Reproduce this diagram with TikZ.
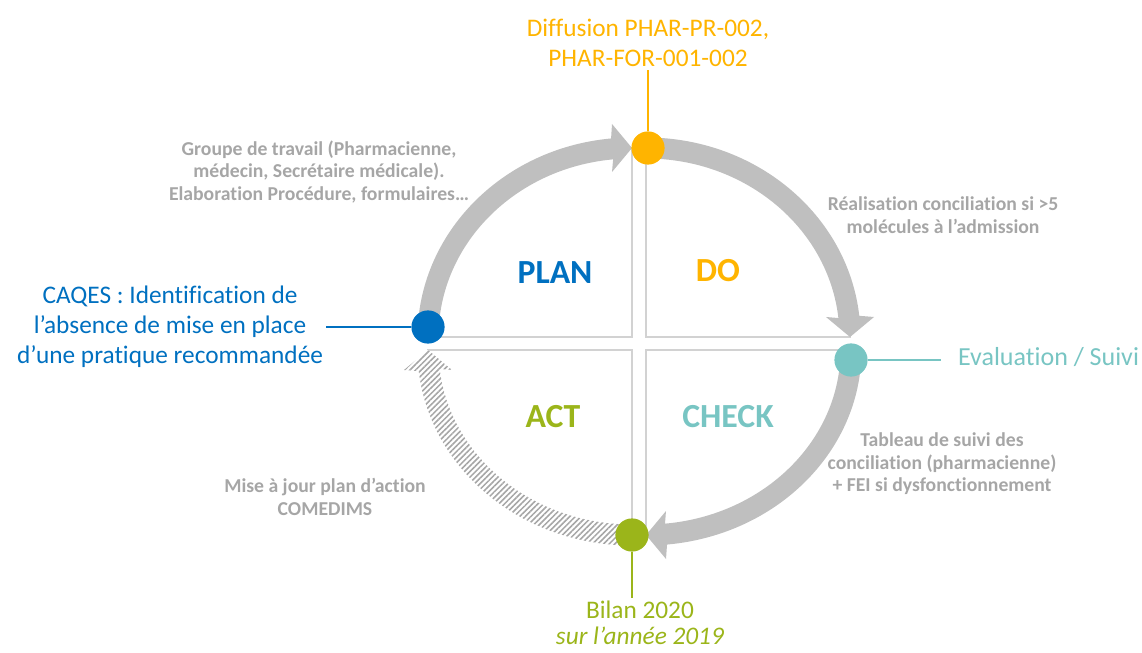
\documentclass[tikz,border=0pt]{standalone}
\usepackage{fontspec}
\setmainfont{Carlito}[Ligatures=NoCommon]
\usetikzlibrary{positioning,patterns.meta}

\definecolor{planblue}{RGB}{0,112,192}
\definecolor{doyellow}{RGB}{255,180,0}
\definecolor{checkteal}{RGB}{120,197,195}
\definecolor{actgreen}{RGB}{155,181,26}
\definecolor{arrowgray}{RGB}{191,191,191}
\definecolor{notegray}{RGB}{166,166,166}
\definecolor{quadgray}{RGB}{210,210,210}

\begin{document}
\begin{tikzpicture}[
x=0.025cm,
y=0.025cm,
quadrant/.style={draw=quadgray, line width=1.1pt},
band/.style={fill=arrowgray},
hatchband/.style={
    preaction={fill=white},
    pattern={Lines[angle=45,distance=2.8pt,line width=1.1pt]},
    pattern color=notegray
},
dot/.style={circle, minimum size=0.83cm, inner sep=0pt},
connector/.style={line width=1.5pt},
title/.style={font=\fontsize{24}{28}\selectfont\bfseries},
note/.style={
    text=notegray,
    align=center,
    inner sep=2pt,
    font=\fontsize{14}{16}\selectfont\bfseries
},
tag/.style={
    align=center,
    inner sep=2pt,
    font=\fontsize{18}{21.5}\selectfont
}
]

\useasboundingbox (0,0) rectangle (1142,652);

\draw[quadrant] (632,315) -- ++(-204,0) arc[start angle=180,end angle=90,x radius=204,y radius=189] -- cycle;
\draw[quadrant] (646,315) -- ++(0,189) arc[start angle=90,end angle=0,x radius=204,y radius=189] -- cycle;
\draw[quadrant] (646,302) -- ++(205,0) arc[start angle=0,end angle=-90,x radius=205,y radius=185] -- cycle;
\draw[quadrant] (632,302) -- ++(0,-185) arc[start angle=270,end angle=180,x radius=204,y radius=185] -- cycle;

\begin{scope}[shift={(632,315)}]
\fill[band] (180:214.5 and 199.5) arc[start angle=180,end angle=95.6,x radius=214.5,y radius=199.5]
    -- (-20,213) -- (0,189) -- (-20,165)
    -- (95.6:193.5 and 178.5) arc[start angle=95.6,end angle=180,x radius=193.5,y radius=178.5] -- cycle;
\end{scope}

\begin{scope}[shift={(646,315)}]
\fill[band] (90:214.5 and 199.5) arc[start angle=90,end angle=6.1,x radius=214.5,y radius=199.5]
    -- (228,20) -- (204,0) -- (180,20)
    -- (6.1:193.5 and 178.5) arc[start angle=6.1,end angle=90,x radius=193.5,y radius=178.5] -- cycle;
\end{scope}

\begin{scope}[shift={(646,302)}]
\fill[band] (0:215.5 and 195.5) arc[start angle=0,end angle=-84.4,x radius=215.5,y radius=195.5]
    -- (20,-209) -- (0,-185) -- (20,-161)
    -- (-84.4:194.5 and 174.5) arc[start angle=-84.4,end angle=0,x radius=194.5,y radius=174.5] -- cycle;
\end{scope}

\begin{scope}[shift={(632,302)}]
\path[hatchband] (270:214.5 and 195.5) arc[start angle=270,end angle=186.2,x radius=214.5,y radius=195.5]
    -- (-228,-20) -- (-204,0) -- (-180,-20)
    -- (186.2:193.5 and 174.5) arc[start angle=186.2,end angle=270,x radius=193.5,y radius=174.5] -- cycle;
\end{scope}

\node[title, text=planblue] (plan) at (555,379) {PLAN};
\node[title, text=doyellow] (do) at (718,381) {DO};
\node[title, text=actgreen] (act) at (553,235) {ACT};
\node[title, text=checkteal] (check) at (728,235) {CHECK};

\node[dot, fill=planblue] (plandot) at (428,325) {};
\node[dot, fill=doyellow] (dodot) at (648,504) {};
\node[dot, fill=checkteal] (checkdot) at (851,292) {};
\node[dot, fill=actgreen] (actdot) at (632,117) {};

\node[tag, text=doyellow] (diffusion) at (648,609)
{Diffusion PHAR-PR-002,\\PHAR-FOR-001-002};

\node[tag, text=planblue] (caqes) at (170,325)
{CAQES : Identification de\\l’absence de mise en place\\d’une pratique recommandée};

\node[tag, text=checkteal, anchor=west] (evaluation) at (955,295)
{\fontsize{18.5}{21.5}\selectfont Evaluation / Suivi};

\node[tag, text=actgreen, font=\fontsize{18}{18.5}\selectfont] (bilan) at (640,29)
{Bilan 2020\\\textit{sur l’année 2019}};

\node[note] (groupe) at (319,480)
{Groupe de travail (Pharmacienne,\\médecin, Secrétaire médicale).\\Elaboration Procédure, formulaires…};

\node[note] (realisation) at (943,437)
{Réalisation conciliation si >5\\molécules à l’admission};

\node[note] (tableau) at (942,188)
{Tableau de suivi des\\conciliation (pharmacienne)\\+ FEI si dysfonctionnement};

\node[note] (miseajour) at (325,155)
{Mise à jour plan d’action\\COMEDIMS};

\draw[connector, doyellow] (dodot) -- (dodot |- diffusion.south);
\draw[connector, planblue] (caqes.east) -- (plandot);
\draw[connector, checkteal, shorten >=10pt] (checkdot) -- (checkdot -| evaluation.west);
\draw[connector, actgreen] (actdot) -- (actdot |- bilan.north);

\end{tikzpicture}
\end{document}
